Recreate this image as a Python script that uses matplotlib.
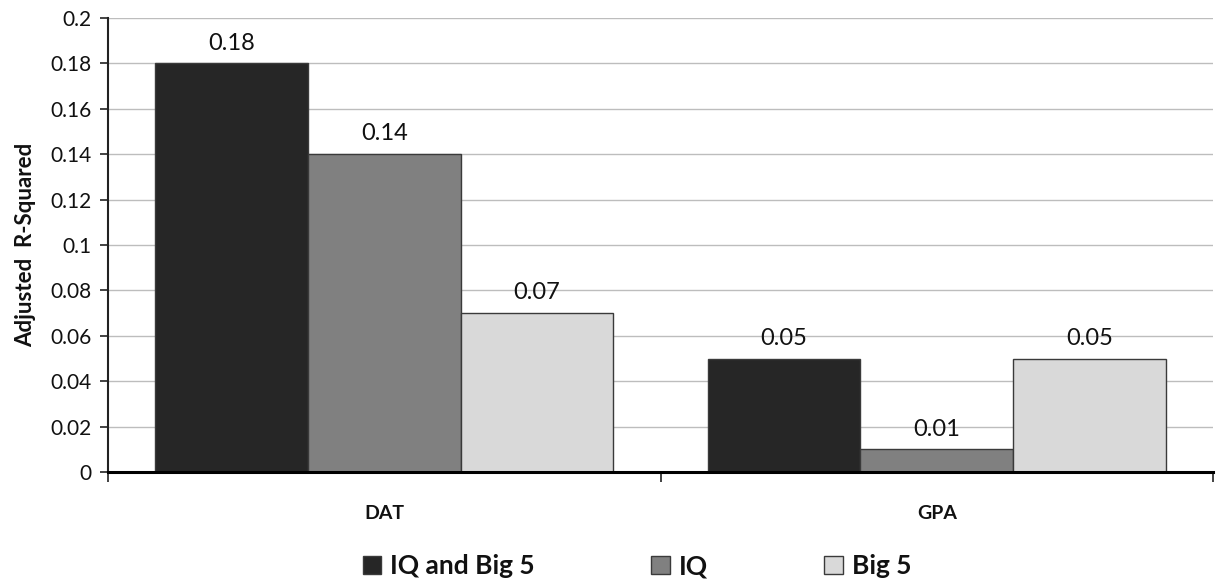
import matplotlib
matplotlib.use("Agg")
import matplotlib.pyplot as plt
import numpy as np
from matplotlib.patches import Patch

categories = ["DAT", "GPA"]
series_names = ["IQ and Big 5", "IQ", "Big 5"]
iq_big5 = [0.18, 0.05]
iq = [0.14, 0.01]
big5 = [0.07, 0.05]
value_labels = [["0.18", "0.05"], ["0.14", "0.01"], ["0.07", "0.05"]]
yticks = [0, 0.02, 0.04, 0.06, 0.08, 0.1, 0.12, 0.14, 0.16, 0.18, 0.2]
ytick_labels = ["0", "0.02", "0.04", "0.06", "0.08", "0.1", "0.12", "0.14", "0.16", "0.18", "0.2"]

colors = ["#262626", "#808080", "#d9d9d9"]
plt.rcParams['font.family'] = ['Lato', 'DejaVu Sans']

fig = plt.figure(figsize=(12.16, 5.8), dpi=100)
ax = fig.add_axes([108/1216, 1 - 472/580, (1213-108)/1216, (472-18)/580])

x = np.arange(len(categories))
w = 0.2765
all_series = [iq_big5, iq, big5]
for i, (vals, c) in enumerate(zip(all_series, colors)):
    bars = ax.bar(x + (i - 1) * w, vals, width=w, color=c, edgecolor="#3a3a3a",
                  linewidth=1.0, zorder=3)
    for b, lab in zip(bars, value_labels[i]):
        ax.annotate(lab, (b.get_x() + b.get_width() / 2, b.get_height()),
                    xytext=(0, 7), textcoords="offset points",
                    ha="center", va="bottom", fontsize=17, color="#111111", zorder=4)

ax.set_xlim(-0.5, 1.5)
ax.set_ylim(0, 0.2)
ax.set_yticks(yticks)
ax.set_yticklabels(ytick_labels, fontsize=15, color="#111111")
ax.yaxis.grid(True, color="#bdbdbd", linewidth=1.0, zorder=0)
ax.set_axisbelow(True)

ax.set_xticks([-0.5, 0.5, 1.5])
ax.set_xticklabels(["", "", ""])
ax.set_xticks(x, minor=True)
ax.set_xticklabels(categories, minor=True, fontsize=14, fontweight="bold", color="#111111")
ax.tick_params(axis="x", which="minor", length=0, pad=24)
ax.tick_params(axis="x", which="major", length=7, width=1.2, color="#222222", direction="out")
ax.tick_params(axis="y", length=6, width=1.2, color="#222222", pad=6)

for s in ["top", "right"]:
    ax.spines[s].set_visible(False)
ax.spines["left"].set_linewidth(1.5)
ax.spines["left"].set_color("#222222")
ax.spines["bottom"].set_linewidth(2.2)
ax.spines["bottom"].set_color("#000000")
ax.spines["bottom"].set_zorder(5)

ax.set_ylabel("Adjusted  R-Squared", fontsize=16, fontweight="bold", color="#111111", labelpad=10)

handles = [Patch(facecolor=c, edgecolor="#3a3a3a", linewidth=1.0) for c in colors]
leg = fig.legend(handles, series_names, loc="center", bbox_to_anchor=(637/1216, 1 - 566/580),
                 ncol=3, frameon=False, prop={"size": 19, "weight": "bold"},
                 handlelength=0.7, handleheight=0.7, handletextpad=0.35, columnspacing=4.4)
for t in leg.get_texts():
    t.set_color("#111111")

fig.savefig("out.png", dpi=100)
